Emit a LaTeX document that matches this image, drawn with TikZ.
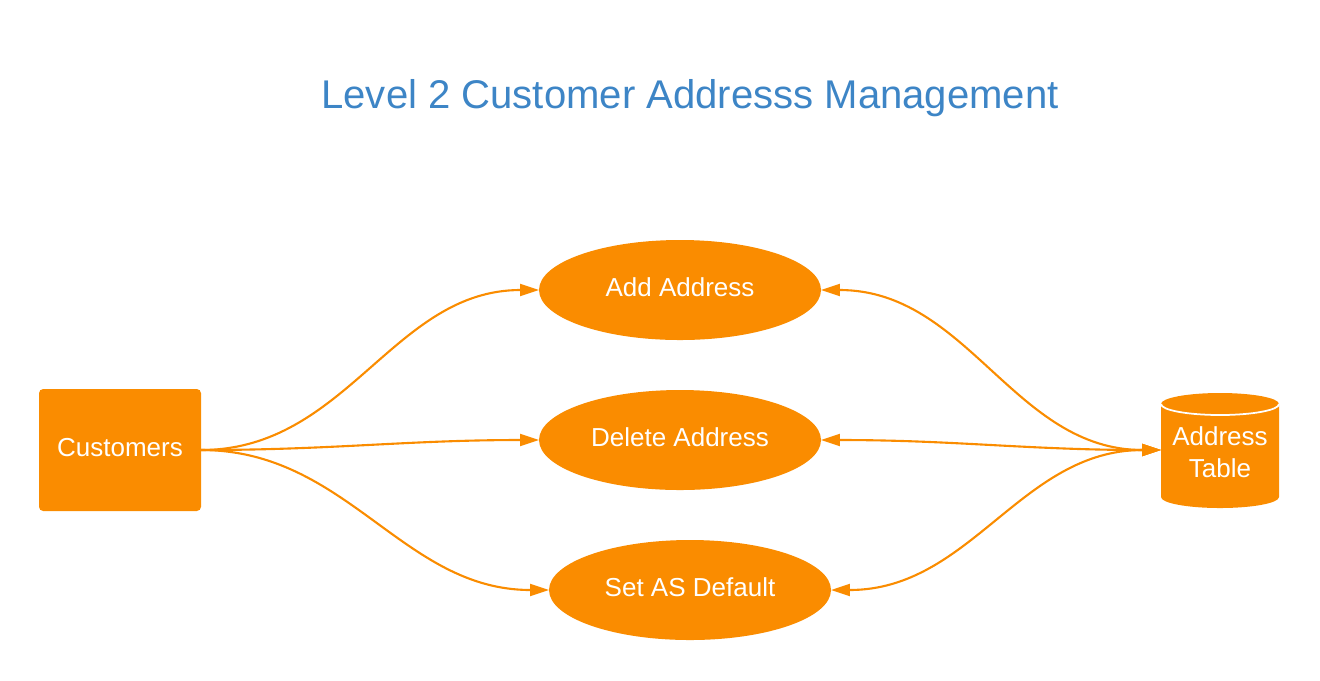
\documentclass[tikz,border=0pt]{standalone}
\usepackage{fontspec}
\setmainfont{Liberation Sans}
\usetikzlibrary{arrows.meta,shapes.geometric}
\definecolor{lucorange}{HTML}{FA8C00}
\definecolor{lucblue}{HTML}{3D85C6}
\begin{document}
\begin{tikzpicture}[
    proc/.style={ellipse,fill=lucorange,text=white,minimum width=2.82cm,minimum height=1cm,inner sep=0pt,outer sep=0pt,text height=0.6em,text depth=0.22em,font=\fontsize{7.4}{9}\selectfont},
    flow/.style={draw=lucorange,line width=0.6pt,-{Triangle[length=5.4pt,width=3.4pt]}},
    both/.style={flow,{Triangle[length=5.4pt,width=3.4pt]}-{Triangle[length=5.4pt,width=3.4pt]}}
  ]
    \useasboundingbox (0,0) rectangle (13.2,6.8);
    \node[text=lucblue,font=\fontsize{11.4}{13}\selectfont] (title) at (6.9,5.82) {Level 2 Customer Addresss Management};
    \node[fill=lucorange,rounded corners=1.2pt,text=white,minimum width=1.62cm,minimum height=1.22cm,inner sep=0pt,outer sep=0pt,text height=0.6em,text depth=0.22em,font=\fontsize{7.4}{9}\selectfont] (cust) at (1.2,2.3) {Customers};
    \node[proc] (add) at (6.8,3.9) {Add Address};
    \node[proc] (del) at (6.8,2.4) {Delete Address};
    \node[proc] (def) at (6.9,0.9) {Set AS Default};
    % cylinder
    \fill[lucorange] (11.61,2.76) -- (11.61,1.83) arc (180:360:0.59 and 0.11) -- (12.79,2.76) arc (0:180:0.59 and 0.11) -- cycle;
    \draw[white,line width=0.5pt] (11.61,2.76) arc (180:360:0.59 and 0.11);
    \node[align=center,text=white,minimum width=1.18cm,minimum height=1.15cm,inner sep=0pt,outer sep=0pt,font=\fontsize{7.4}{9.1}\selectfont] (tab) at (12.2,2.3) {\rule{0pt}{6.6pt}Address\\Table};
    \draw[flow] (cust.east) to[out=0,in=180] (add.west);
    \draw[flow] (cust.east) to[out=0,in=180] (del.west);
    \draw[flow] (cust.east) to[out=0,in=180] (def.west);
    \draw[both] (add.east) to[out=0,in=180] (tab.west);
    \draw[both] (del.east) to[out=0,in=180] (tab.west);
    \draw[both] (def.east) to[out=0,in=180] (tab.west);
\end{tikzpicture}
\end{document}
